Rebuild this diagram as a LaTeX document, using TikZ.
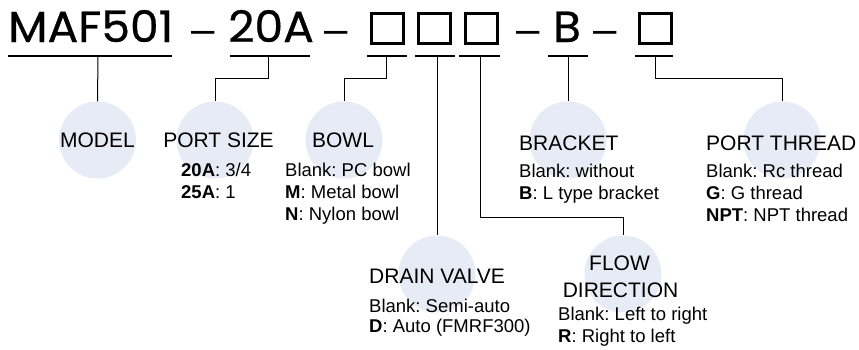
\documentclass[tikz,border=0pt]{standalone}
\usepackage{fontspec}
\setmainfont{Liberation Sans}
\newfontfamily\titlefont[FakeStretch=1.05,FakeBold=0.6]{Poppins}
\frenchspacing
\begin{document}
\begin{tikzpicture}[x=1pt,y=-1pt,
  bubble/.style={circle,fill=bubblecol,draw=none,minimum size=77pt,inner sep=0pt},
  ttl/.style={font=\titlefont\fontsize{43.5}{46}\selectfont,inner sep=0pt,anchor=base west},
  dsh/.style={font=\fontsize{42}{44}\selectfont,inner sep=0pt,anchor=base},
  slot/.style={draw,line width=3pt,minimum width=32pt,minimum height=30pt,inner sep=0pt,anchor=north west},
  uline/.style={line width=1.2pt},
  conn/.style={line width=1pt},
  lbl/.style={font=\fontsize{21}{24}\selectfont,inner sep=0pt},
  dsc/.style={font=\fontsize{18.5}{21}\selectfont,inner sep=0pt,anchor=base west}]
\definecolor{bubblecol}{HTML}{E7EBF5}
\useasboundingbox (0,0) rectangle (859,349);
% title
\node[ttl] (maf) at (8,42) {MAF501};
\node[dsh] (d1) at (203.5,43) {–};
\node[ttl] (pa) at (228,42) {20A};
\node[dsh] (d2) at (336.5,43) {–};
\node[slot] (s1) at (369.5,11.5) {};
\node[slot] (s2) at (416.5,11.5) {};
\node[slot] (s3) at (463.5,11.5) {};
\node[dsh] (d3) at (528.5,43) {–};
\node[ttl,anchor=base] (bb) at (567,42) {B};
\node[dsh] (d4) at (605,43) {–};
\node[slot] (s4) at (637.5,11.5) {};
% underlines
\draw[uline] (8,56) -- (172,56);
\draw[uline] (230,56) -- (310,56);
\draw[uline] (367,56) -- (407,56);
\draw[uline] (415,56) -- (455,56);
\draw[uline] (459,56) -- (500,56);
\draw[uline] (548,56) -- (588,56);
\draw[uline] (635,56) -- (673,56);
\coordinate (u1) at (98,56);
\coordinate (u2) at (268,56);
\coordinate (u3) at (386,56);
\coordinate (u4) at (437,56);
\coordinate (u5) at (480,56);
\coordinate (u6) at (568,56);
\coordinate (u7) at (655,56);
% bubbles
\node[bubble] (c1) at (97.5,140) {};
\node[bubble] (c2) at (215,140) {};
\node[bubble] (c3) at (344,140) {};
\node[bubble] (c4) at (568,140) {};
\node[bubble] (c5) at (782,140) {};
\node[bubble] (c6) at (437,274) {};
\node[bubble] (c7) at (623,274) {};
% connectors
\draw[conn] (u1) -- (c1.north);
\draw[conn] (u2) -- ++(0,22) -| (c2.north);
\draw[conn] (u3) -- ++(0,22) -| (c3.north);
\draw[conn] (u4) -- (c6.north);
\draw[conn] (u5) -- ++(0,161) -| (c7.north);
\draw[conn] (u6) -- (c4.north);
\draw[conn] (u7) -- ++(0,22) -| (c5.north);
% labels
\node[lbl,anchor=base] (l1) at (97.5,147) {MODEL};
\node[lbl,anchor=base] (l2) at (218.5,147) {PORT SIZE};
\node[lbl,anchor=base] (l3) at (343,147) {BOWL};
\node[lbl,anchor=base west] (l4) at (519,150) {BRACKET};
\node[lbl,anchor=base west] (l5) at (706,150) {PORT THREAD};
\node[lbl,anchor=base west] (l6) at (369,283) {DRAIN VALVE};
\node[lbl,anchor=base] (l7a) at (619.5,270) {FLOW};
\node[lbl,anchor=base] (l7b) at (620.5,297) {DIRECTION};
% descriptions
\node[dsc] (p1) at (181,176.5) {\textbf{20A}: 3/4};
\node[dsc] (p2) at (181,198.5) {\textbf{25A}: 1};
\node[dsc] (b1) at (285,176.5) {Blank: PC bowl};
\node[dsc] (b2) at (285,198.5) {\textbf{M}: Metal bowl};
\node[dsc] (b3) at (285,220.5) {\textbf{N}: Nylon bowl};
\node[dsc] (k1) at (519,177) {Blank: without};
\node[dsc] (k2) at (519,199) {\textbf{B}: L type bracket};
\node[dsc] (t1) at (706,177) {Blank: Rc thread};
\node[dsc] (t2) at (706,199) {\textbf{G}: G thread};
\node[dsc] (t3) at (706,221.5) {\textbf{NPT}: NPT thread};
\node[dsc] (v1) at (369,312) {Blank: Semi-auto};
\node[dsc] (v2) at (369,332.5) {\textbf{D}: Auto (FMRF300)};
\node[dsc] (f1) at (558,320.5) {Blank: Left to right};
\node[dsc] (f2) at (558,342) {\textbf{R}: Right to left};
\end{tikzpicture}
\end{document}
